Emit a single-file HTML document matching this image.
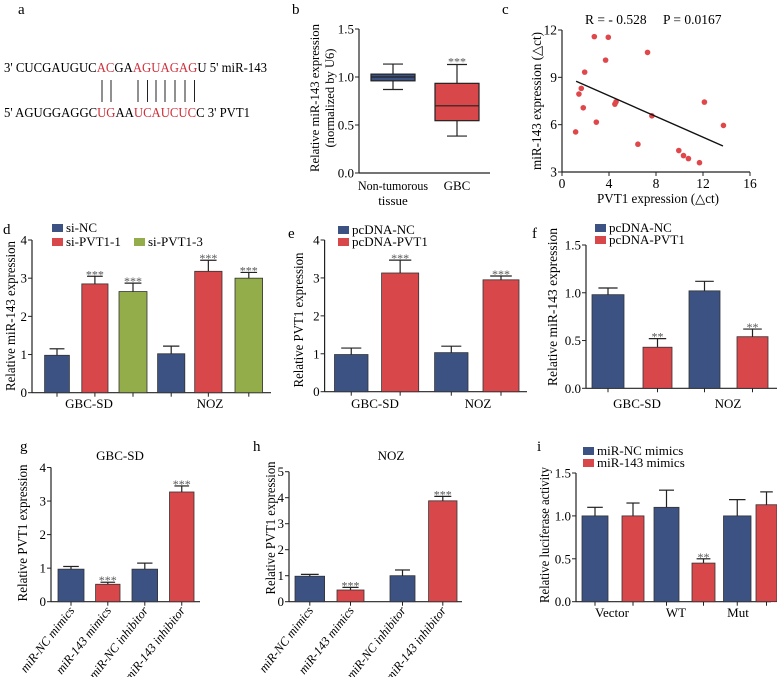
<!DOCTYPE html>
<html><head><meta charset="utf-8"><style>
body{margin:0;background:#fff}
svg, svg text{font-family:"Liberation Serif","Times New Roman",serif}
</style></head><body>
<svg id="fig" width="777" height="677" viewBox="0 0 777 677" xmlns="http://www.w3.org/2000/svg" font-family="Liberation Serif, serif">
<g font-size="13.5">
<text x="18" y="14" font-size="15">a</text>
<text x="4" y="72" textLength="263" lengthAdjust="spacingAndGlyphs">3' CUCGAUGUC<tspan fill="#d0303a">AC</tspan>GA<tspan fill="#d0303a">AGUAGAG</tspan>U 5' miR-143</text>
<text x="4" y="117" textLength="246" lengthAdjust="spacingAndGlyphs">5' AGUGGAGGC<tspan fill="#d0303a">UG</tspan>AA<tspan fill="#d0303a">UCAUCUC</tspan>C 3' PVT1</text>
<g stroke="#222" stroke-width="1">
<line x1="102" y1="80" x2="102" y2="102"/><line x1="111" y1="80" x2="111" y2="102"/>
<line x1="138" y1="80" x2="138" y2="102"/><line x1="147.5" y1="80" x2="147.5" y2="102"/><line x1="156" y1="80" x2="156" y2="102"/><line x1="165" y1="80" x2="165" y2="102"/><line x1="175" y1="80" x2="175" y2="102"/><line x1="185" y1="80" x2="185" y2="102"/><line x1="194.5" y1="80" x2="194.5" y2="102"/>
</g>
</g>
</svg>
<script>
// ---------- data ----------
const bCategories=["Non-tumorous","GBC"];
const bWhiskerLow=[0.87,0.385];
const bQ1=[0.96,0.545];
const bMedian=[1.0,0.70];
const bQ3=[1.03,0.934];
const bWhiskerHigh=[1.135,1.13];
const bTicks=["0.0","0.5","1.0","1.5"];

const cX=[2.75,3.94,7.28,3.71,1.93,1.64,1.44,1.81,4.6,4.5,7.65,12.12,13.74,2.92,1.16,6.46,9.94,10.34,10.76,11.70];
const cY=[11.58,11.54,10.58,10.09,9.33,8.30,7.94,7.07,7.45,7.30,6.56,7.43,5.95,6.16,5.54,4.76,4.36,4.04,3.85,3.59];
const cFitX=[1.2,13.7];
const cFitY=[8.75,4.65];
const cXTicks=[0,4,8,12,16];
const cYTicks=[3,6,9,12];

const dGroups=["GBC-SD","NOZ"];
const dSeries=["si-NC","si-PVT1-1","si-PVT1-3"];
const dValues=[[0.98,2.85,2.65],[1.02,3.18,3.0]];
const dErrors=[[0.17,0.2,0.22],[0.2,0.29,0.15]];
const dStars=[["","***","***"],["","***","***"]];
const dTicks=["0","1","2","3","4"];

const eGroups=["GBC-SD","NOZ"];
const eSeries=["pcDNA-NC","pcDNA-PVT1"];
const eValues=[[0.98,3.13],[1.03,2.95]];
const eErrors=[[0.17,0.34],[0.17,0.1]];
const eStars=[["","***"],["","***"]];
const eTicks=["0","1","2","3","4"];

const fGroups=["GBC-SD","NOZ"];
const fSeries=["pcDNA-NC","pcDNA-PVT1"];
const fValues=[[0.98,0.43],[1.02,0.54]];
const fErrors=[[0.07,0.09],[0.1,0.08]];
const fStars=[["","**"],["","**"]];
const fTicks=["0.0","0.5","1.0","1.5"];

const gCategories=["miR-NC mimics","miR-143 mimics","miR-NC inhibitor","miR-143 inhibitor"];
const gValues=[0.97,0.52,0.97,3.27];
const gErrors=[0.08,0.06,0.18,0.18];
const gStars=["","***","","***"];
const gTicks=["0","1","2","3","4"];

const hCategories=["miR-NC mimics","miR-143 mimics","miR-NC inhibitor","miR-143 inhibitor"];
const hValues=[0.98,0.45,1.0,3.88];
const hErrors=[0.07,0.1,0.22,0.17];
const hStars=["","***","","***"];
const hTicks=["0","1","2","3","4","5"];

const iGroups=["Vector","WT","Mut"];
const iSeries=["miR-NC mimics","miR-143 mimics"];
const iValues=[[1.0,1.0],[1.1,0.45],[1.0,1.13]];
const iErrors=[[0.1,0.15],[0.2,0.05],[0.19,0.15]];
const iStars=[["",""],["","**"],["",""]];
const iTicks=["0.0","0.5","1.0","1.5"];

const BLUE="#3b5283",RED="#d8474a",GREEN="#93ad4b",DOT="#e0474b";
const FONT="Liberation Serif, serif";
const svg=document.getElementById('fig');
const NS="http://www.w3.org/2000/svg";
function mk(tag,attrs,parent,txt){const e=document.createElementNS(NS,tag);for(const k in attrs)e.setAttribute(k,attrs[k]);if(tag==='text')e.setAttribute('font-family',FONT);if(txt!==undefined)e.textContent=txt;(parent||svg).appendChild(e);return e;}
function grp(name){const g=mk('g',{});return g;}
function scale(d0,d1,r0,r1){return v=>r0+(v-d0)*(r1-r0)/(d1-d0);}

function yAxis(g,x,y,ticks,ax0,ax1,fs){
  const L=mk('line',{x1:x,y1:y(ax0),x2:x,y2:y(ax1),stroke:'#222','stroke-width':1.2},g);
  
  ticks.forEach(t=>{const v=parseFloat(t);
    mk('line',{x1:x-4,y1:y(v),x2:x,y2:y(v),stroke:'#222','stroke-width':1},g);
    const T=mk('text',{x:x-5,y:y(v)+4.5,'text-anchor':'end','font-size':fs||13},g,t);
    });
}
function yTitle(g,x,cy,lines,fs,lens){
  lines.forEach((s,i)=>{const T=mk('text',{x:0,y:0,'text-anchor':'middle','font-size':fs||13.5,transform:`translate(${x+i*15},${cy}) rotate(-90)`,textLength:lens[i],lengthAdjust:'spacingAndGlyphs'},g,s);
  });
}
function bar(g,x0,x1,y,v,err,color,star,name){
  const r=mk('rect',{x:x0,y:y(v),width:x1-x0,height:y(0)-y(v),fill:color,stroke:'#333','stroke-width':0.8},g);
  
  const cx=(x0+x1)/2,w=(x1-x0)*0.3;
  mk('line',{x1:cx,y1:y(v),x2:cx,y2:y(v+err),stroke:'#222','stroke-width':1.2},g);
  mk('line',{x1:cx-w,y1:y(v+err),x2:cx+w,y2:y(v+err),stroke:'#222','stroke-width':1.2},g);
  if(star){const s=mk('text',{x:cx,y:y(v+err)+2,'text-anchor':'middle','font-size':12,fill:'#555'},g,star);
    }
}
function legend(g,x,y,label,color,fs){
  const r=mk('rect',{x:x,y:y-8,width:11,height:8,fill:color},g);
  
  const t=mk('text',{x:x+14,y:y,'font-size':fs||13},g,label);
  
}
function label(txt,x,y){const t=mk('text',{x:x,y:y,'font-size':15},svg,txt);}

// ---------- panel b ----------
(function(){
 const g=grp('panel-b'); label('b',292,14);
 const y=scale(0,1.5,173,29);
 const xc=[393,457], hw=22;
 yAxis(g,359,y,bTicks,0,1.5,13);
 mk('line',{x1:359,y1:173,x2:490,y2:173,stroke:'#222','stroke-width':1.2},g);
 yTitle(g,319,98,["Relative miR-143 expression","(normalized by U6)"],13,[148,99]);
 const cols=[BLUE,RED];
 bCategories.forEach((c,i)=>{
  const x=xc[i];
  mk('line',{x1:x,y1:y(bWhiskerLow[i]),x2:x,y2:y(bWhiskerHigh[i]),stroke:'#222','stroke-width':1.2},g);
  mk('line',{x1:x-10,y1:y(bWhiskerLow[i]),x2:x+10,y2:y(bWhiskerLow[i]),stroke:'#222','stroke-width':1.2},g);
  mk('line',{x1:x-10,y1:y(bWhiskerHigh[i]),x2:x+10,y2:y(bWhiskerHigh[i]),stroke:'#222','stroke-width':1.2},g);
  const r=mk('rect',{x:x-hw,y:y(bQ3[i]),width:hw*2,height:y(bQ1[i])-y(bQ3[i]),fill:cols[i],stroke:'#222','stroke-width':1.2},g);
  
  mk('line',{x1:x-hw,y1:y(bMedian[i]),x2:x+hw,y2:y(bMedian[i]),stroke:'#222','stroke-width':1.2},g);
 });
 const s=mk('text',{x:457,y:y(1.13)+1,'text-anchor':'middle','font-size':12,fill:'#555'},g,'***');
 
 let t=mk('text',{x:393,y:190,'text-anchor':'middle','font-size':13,textLength:70,lengthAdjust:'spacingAndGlyphs'},g,'Non-tumorous');
 t=mk('text',{x:393,y:205,'text-anchor':'middle','font-size':13},g,'tissue');
 t=mk('text',{x:457,y:190,'text-anchor':'middle','font-size':13},g,'GBC');
})();

// ---------- panel c ----------
(function(){
 const g=grp('panel-c'); label('c',502,14);
 const x=scale(0,16,562,750), y=scale(3,12,172,30);
 yAxis(g,562,y,cYTicks.map(String),3,12,13.5);
 mk('line',{x1:562,y1:172,x2:750,y2:172,stroke:'#222','stroke-width':1.2},g);
 cXTicks.forEach(v=>{mk('line',{x1:x(v),y1:172,x2:x(v),y2:176,stroke:'#222'},g);
  const t=mk('text',{x:x(v),y:188,'text-anchor':'middle','font-size':13.5},g,String(v));});
 cX.forEach((v,i)=>{const c=mk('circle',{cx:x(v),cy:y(cY[i]),r:2.8,fill:DOT},g);});
 const l=mk('line',{x1:x(cFitX[0]),y1:y(cFitY[0]),x2:x(cFitX[1]),y2:y(cFitY[1]),stroke:'#111','stroke-width':1.4},g);
 
 let t=mk('text',{x:585,y:24,'font-size':13.5},g,'R = - 0.528');
 t=mk('text',{x:663,y:24,'font-size':13.5},g,'P = 0.0167');
 t=mk('text',{x:658,y:203,'text-anchor':'middle','font-size':13.5,textLength:122,lengthAdjust:'spacingAndGlyphs'},g,'PVT1 expression (△ct)');
 yTitle(g,541,101,["miR-143 expression (△ct)"],13.5,[138]);
})();

// ---------- grouped bar helper ----------
function grouped(name,lab,lx,ly,ax,yr,ticks,groups,series,values,errors,stars,barX,colors,xEnd,glabX,glabY,titleX,titleText,legPos,tLen,tCy){
 const g=grp(name); label(lab,lx,ly);
 const y=scale(yr[0],yr[1],yr[2],yr[3]);
 yAxis(g,ax,y,ticks,yr[0],yr[1],13);
 mk('line',{x1:ax,y1:y(0),x2:xEnd,y2:y(0),stroke:'#222','stroke-width':1.2},g);
 groups.forEach((gn,gi)=>{
  series.forEach((sn,si)=>{const b=barX[gi][si];bar(g,b[0],b[1],y,values[gi][si],errors[gi][si],colors[si],stars[gi][si],'bar-'+gn.toLowerCase()+'-'+sn.toLowerCase().replace(/ /g,'-'));
   mk('line',{x1:(b[0]+b[1])/2,y1:y(0),x2:(b[0]+b[1])/2,y2:y(0)+4,stroke:'#222'},g);});
  const t=mk('text',{x:glabX[gi],y:glabY,'text-anchor':'middle','font-size':13},g,gn);
 });
 yTitle(g,titleX,tCy,[titleText],13.5,[tLen]);
 series.forEach((s,si)=>legend(g,legPos[si][0],legPos[si][1],s,colors[si],13));
}
grouped('panel-d','d',3,234,32,[0,4,392.7,240],dTicks,dGroups,dSeries,dValues,dErrors,dStars,
 [[[44.6,69.4],[81.8,108],[119,147]],[[157.6,184.8],[194.7,222],[235,262.6]]],[BLUE,RED,GREEN],271,[89,210],408,15,'Relative miR-143 expression',
 [[52,232],[52,246],[134,246]],150,316);
grouped('panel-e','e',288,238,324.6,[0,4,391.7,240],eTicks,eGroups,eSeries,eValues,eErrors,eStars,
 [[[334.5,368],[381.6,418.7]],[[434.6,468],[483,519]]],[BLUE,RED],527,[375,478],408,303,'Relative PVT1 expression',
 [[338,234],[338,246]],135,320);
grouped('panel-f','f',532,238,586,[0,1.5,388.3,245],fTicks,fGroups,fSeries,fValues,fErrors,fStars,
 [[[592,624],[643,672]],[[689,720],[737,768]]],[BLUE,RED],777,[637,728],408,557,'Relative miR-143 expression',
 [[595,232],[595,244]],158,307);
grouped('panel-i','i',537,451,576,[0,1.5,601.7,473],iTicks,iGroups,iSeries,iValues,iErrors,iStars,
 [[[582,608],[622,644]],[[654,679],[692,715]],[[723.5,751],[756,777]]],[BLUE,RED],771,[612,676,738],617,549,'Relative luciferase activity',
 [[583,455],[583,467]],136,535);

// ---------- g / h ----------
function single(name,lab,lx,ly,ax,yr,ticks,cats,values,errors,stars,barX,colors,xEnd,title,titleX,titleY,ytx,tLen,tCy){
 const g=grp(name); label(lab,lx,ly);
 const y=scale(yr[0],yr[1],yr[2],yr[3]);
 yAxis(g,ax,y,ticks,yr[0],yr[1],13);
 mk('line',{x1:ax,y1:y(0),x2:xEnd,y2:y(0),stroke:'#222','stroke-width':1.2},g);
 cats.forEach((c,i)=>{const b=barX[i];bar(g,b[0],b[1],y,values[i],errors[i],colors[i],stars[i],'bar-'+c.toLowerCase().replace(/ /g,'-'));
  const cx=(b[0]+b[1])/2;
  mk('line',{x1:cx,y1:y(0),x2:cx,y2:y(0)+4,stroke:'#222'},g);
  const t=mk('text',{x:0,y:0,'text-anchor':'end','font-size':12.5,'font-style':'italic',transform:`translate(${cx+4},${y(0)+9}) rotate(-52)`},g,c);
  });
 const t=mk('text',{x:titleX,y:titleY,'text-anchor':'middle','font-size':13},g,title);
 yTitle(g,ytx,tCy,['Relative PVT1 expression'],13.5,[tLen]);
}
single('panel-g','g',20,451,51,[0,4,601.7,467.5],gTicks,gCategories,gValues,gErrors,gStars,
 [[58,84],[95.6,120],[132,157.6],[169.5,194]],[BLUE,RED,BLUE,RED],200,'GBC-SD',120,460,27,137,533);
single('panel-h','h',253,451,289,[0,5,601.7,471.7],hTicks,hCategories,hValues,hErrors,hStars,
 [[295,324.6],[337,364],[390,415],[428.6,457]],[BLUE,RED,BLUE,RED],462,'NOZ',391,460,275,133,528);
</script>
</body></html>
